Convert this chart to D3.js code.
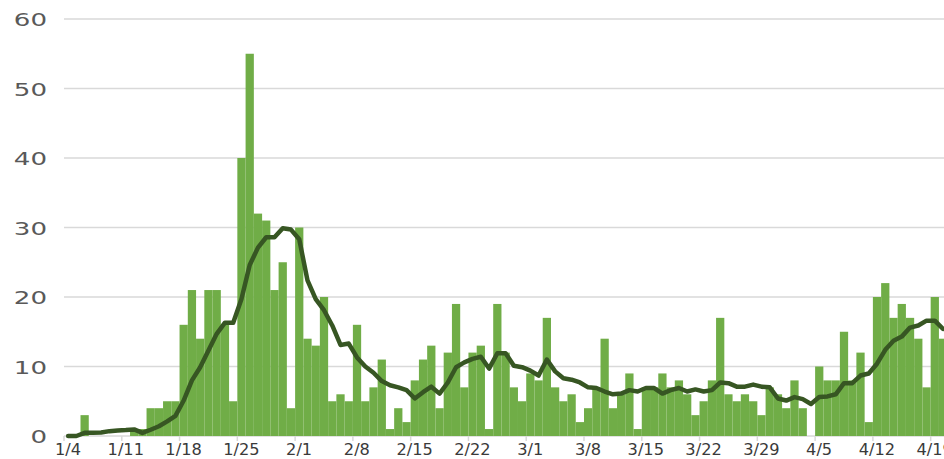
<!DOCTYPE html>
<html>
<head>
<meta charset="utf-8">
<script src="https://cdn.jsdelivr.net/npm/d3@7"></script>
<style>
  html, body { margin: 0; padding: 0; background: #fff; }
  svg { display: block; }
</style>
</head>
<body>
<svg id="chart" width="944" height="459"></svg>
<script>
// daily counts, 1/4 .. 4/20
const firstDay = new Date(2021, 0, 4);
const lastDay = new Date(2021, 3, 20);

const dailyCases = [
  0, 0, 3, 0, 0, 0, 0, 0, 1, 1, 4, 4, 5, 5, 16, 21, 14, 21, 21, 16, 5,
  40, 55, 32, 31, 21, 25, 4, 30, 14, 13, 20, 5, 6, 5,
  16, 5, 7, 11, 1, 4, 2, 8, 11, 13, 4, 12, 19, 7,
  12, 13, 1, 19, 12, 7, 5, 9, 8, 17, 7, 5, 6, 2,
  4, 7, 14, 4, 6, 9, 1, 7, 7, 9, 7, 8, 6, 3,
  5, 8, 17, 6, 5, 6, 5, 3, 7, 6, 4, 8, 4, 0,
  10, 8, 8, 15, 8, 12, 2, 20, 22, 17, 19, 17, 14, 7,
  20, 14
];

// 7-day average line
const weeklyAverage = [
  0, 0, 0.45, 0.45, 0.5, 0.7, 0.8, 0.85, 0.95, 0.45, 0.9, 1.4, 2.1, 2.9, 5.1, 8.0, 9.9,
  12.3, 14.7, 16.3, 16.3, 19.7, 24.6, 27.1, 28.6, 28.6, 29.9, 29.7, 28.3, 22.4, 19.7,
  18.1, 15.9, 13.1, 13.3, 11.3, 10.0, 9.1, 7.9, 7.3, 7.0, 6.6, 5.4, 6.3, 7.1, 6.1,
  7.7, 9.9, 10.6, 11.1, 11.4, 9.7, 11.9, 11.9, 10.1, 9.9, 9.4, 8.7, 11.0, 9.3, 8.3,
  8.1, 7.7, 7.0, 6.9, 6.4, 6.0, 6.1, 6.6, 6.4, 6.9, 6.9, 6.1, 6.6, 6.9, 6.4, 6.7,
  6.4, 6.6, 7.7, 7.6, 7.1, 7.1, 7.4, 7.1, 7.0, 5.4, 5.1, 5.6, 5.3, 4.6, 5.6, 5.7,
  6.0, 7.6, 7.6, 8.7, 9.0, 10.4, 12.4, 13.7, 14.3, 15.6, 15.9, 16.6, 16.6, 15.4
];

const tickLabels = ['1/4', '1/11', '1/18', '1/25', '2/1', '2/8', '2/15', '2/22',
  '3/1', '3/8', '3/15', '3/22', '3/29', '4/5', '4/12', '4/19'];
const yTicks = [0, 10, 20, 30, 40, 50, 60];

const width = 944;
const left = 64;
const dayWidth = 8.254;

const days = d3.timeDay.range(firstDay, d3.timeDay.offset(lastDay, 1));
const fmt = (d) => `${d.getMonth() + 1}/${d.getDate()}`;

const x = d3.scaleBand()
  .domain(days.map(fmt))
  .range([left, left + days.length * dayWidth])
  .padding(0);

const y = d3.scaleLinear()
  .domain([0, 60])
  .range([436, 19]);

const svg = d3.select('#chart');

// horizontal gridlines
svg.append('g')
  .selectAll('line')
  .data(yTicks)
  .join('line')
  .attr('x1', left)
  .attr('x2', width)
  .attr('y1', (d) => y(d))
  .attr('y2', (d) => y(d))
  .attr('stroke', '#d9d9d9')
  .attr('stroke-width', 1.5);

// y labels
svg.append('g')
  .selectAll('text')
  .data(yTicks)
  .join('text')
  .attr('transform', (d) => `translate(47,${y(d) + 7}) scale(1.45,1)`)
  .attr('text-anchor', 'end')
  .attr('font-family', 'DejaVu Sans, sans-serif')
  .attr('font-size', 18)
  .attr('fill', '#595959')
  .text((d) => d);

// x tick marks and labels
const xTicks = svg.append('g');
xTicks.selectAll('line')
  .data(tickLabels)
  .join('line')
  .attr('x1', (d) => x(d))
  .attr('x2', (d) => x(d))
  .attr('y1', 436)
  .attr('y2', 441)
  .attr('stroke', '#d9d9d9')
  .attr('stroke-width', 1.5);

// the last label runs off the right edge, as in the source image
xTicks.selectAll('text')
  .data(tickLabels)
  .join('text')
  .attr('transform', (d) => `translate(${x(d) + 4},455) scale(1.08,1)`)
  .attr('text-anchor', 'middle')
  .attr('font-family', 'DejaVu Sans, sans-serif')
  .attr('font-size', 15)
  .attr('fill', '#3a3a3a')
  .text((d) => d);

// bars
svg.append('g')
  .selectAll('rect')
  .data(dailyCases.map((v, i) => ({key: fmt(days[i]), v})))
  .join('rect')
  .attr('x', (d) => x(d.key))
  .attr('y', (d) => y(d.v))
  .attr('width', x.bandwidth())
  .attr('height', (d) => y(0) - y(d.v))
  .attr('fill', '#70ad47');

// 7-day average
const line = d3.line()
  .x((d) => x(d.key) + x.bandwidth() / 2)
  .y((d) => y(d.v));

svg.append('path')
  .datum(weeklyAverage.map((v, i) => ({key: fmt(days[i]), v})))
  .attr('d', line)
  .attr('fill', 'none')
  .attr('stroke', '#375623')
  .attr('stroke-width', 4.5)
  .attr('stroke-linejoin', 'round')
  .attr('stroke-linecap', 'round');
</script>
</body>
</html>
